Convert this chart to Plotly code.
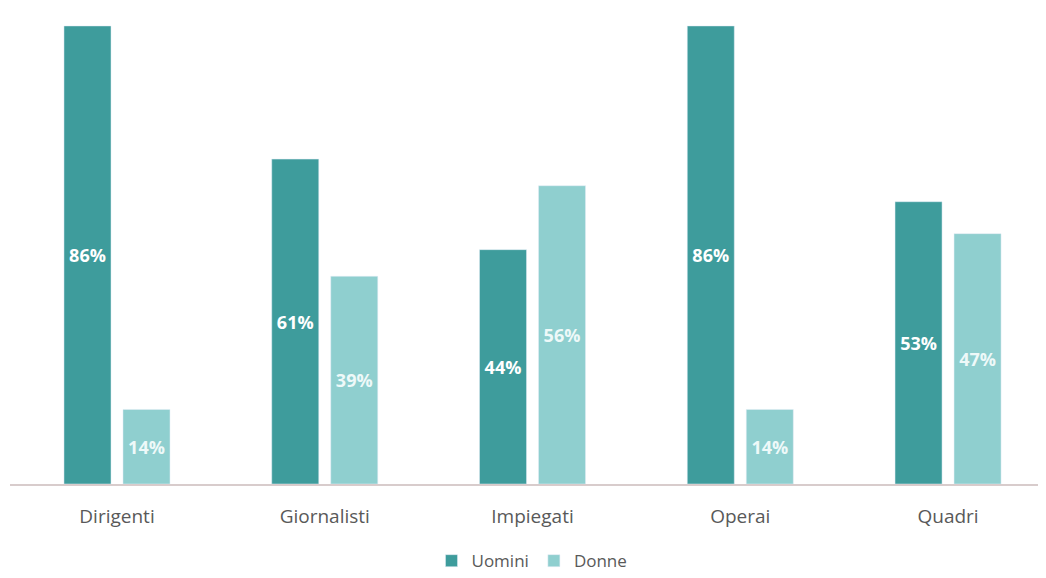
import plotly.graph_objects as go

categories = ["Dirigenti", "Giornalisti", "Impiegati", "Operai", "Quadri"]
uomini = [86, 61, 44, 86, 53]
donne = [14, 39, 56, 14, 47]

dark = "#3e9c9c"
light = "#8fcfcf"

fig = go.Figure()
fig.add_trace(go.Bar(
    name="Uomini", x=categories, y=uomini,
    text=[f"<b>{v}%</b>" for v in uomini], textposition="inside", insidetextanchor="middle",
    textfont=dict(color="white", size=18, family="Open Sans"),
    marker=dict(color=dark), cliponaxis=False,
))
fig.add_trace(go.Bar(
    name="Donne", x=categories, y=donne,
    text=[f"<b>{v}%</b>" for v in donne], textposition="inside", insidetextanchor="middle",
    textfont=dict(color="#eef9f9", size=18, family="Open Sans"),
    marker=dict(color=light), cliponaxis=False,
))

fig.update_layout(
    width=1046, height=578,
    margin=dict(l=2, r=0, t=0, b=102),
    paper_bgcolor="white", plot_bgcolor="white",
    barmode="group", bargap=0.432, bargroupgap=0.203,
    font=dict(family="Open Sans", color="#595959", size=18),
    legend=dict(orientation="h", x=0.5, xanchor="center", y=-0.162, yanchor="middle",
                font=dict(size=17, color="#595959"), itemwidth=30, traceorder="normal"),
    xaxis=dict(range=[-0.515, 4.51], showline=True, linecolor="#d8cccc", linewidth=2,
               ticks="outside", ticklen=14, tickcolor="rgba(0,0,0,0)",
               tickfont=dict(size=19, color="#595959"), showgrid=False),
    yaxis=dict(range=[0, 89.37], visible=False, showgrid=False),
)
fig.update_traces(textangle=0, constraintext="none")

fig.write_html("out.html")
